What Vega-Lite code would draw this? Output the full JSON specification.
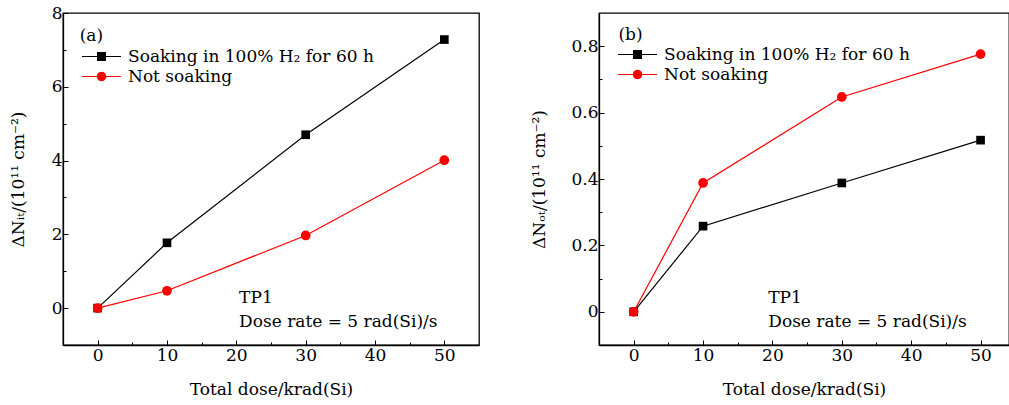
{
  "$schema": "https://vega.github.io/schema/vega-lite/v6.json",
  "padding": {"left": 8, "top": 3, "right": 0, "bottom": 0},
  "background": "white",
  "config": {
    "font": "DejaVu Serif",
    "view": {"stroke": "black", "strokeWidth": 1.3},
    "axis": {
      "domainColor": "black",
      "domainWidth": 1.3,
      "tickColor": "black",
      "tickWidth": 1,
      "labelFont": "DejaVu Serif",
      "labelFontSize": 17,
      "labelColor": "black",
      "titleFont": "DejaVu Serif",
      "titleFontSize": 17,
      "titleFontWeight": "normal",
      "titleColor": "black",
      "grid": false
    },
    "legend": {
      "labelFont": "DejaVu Serif",
      "labelFontSize": 17,
      "labelColor": "black",
      "labelLimit": 0
    }
  },
  "resolve": {"scale": {"color": "independent"}},
  "spacing": 50,
  "datasets": {
    "a": [
      {"dose": 0, "value": 0, "series": "Soaking in 100% H₂ for 60 h"},
      {"dose": 10, "value": 1.77, "series": "Soaking in 100% H₂ for 60 h"},
      {"dose": 30, "value": 4.7, "series": "Soaking in 100% H₂ for 60 h"},
      {"dose": 50, "value": 7.28, "series": "Soaking in 100% H₂ for 60 h"},
      {"dose": 0, "value": 0, "series": "Not soaking"},
      {"dose": 10, "value": 0.47, "series": "Not soaking"},
      {"dose": 30, "value": 1.97, "series": "Not soaking"},
      {"dose": 50, "value": 4.01, "series": "Not soaking"}
    ],
    "b": [
      {"dose": 0, "value": 0, "series": "Soaking in 100% H₂ for 60 h"},
      {"dose": 10, "value": 0.258, "series": "Soaking in 100% H₂ for 60 h"},
      {"dose": 30, "value": 0.388, "series": "Soaking in 100% H₂ for 60 h"},
      {"dose": 50, "value": 0.517, "series": "Soaking in 100% H₂ for 60 h"},
      {"dose": 0, "value": 0, "series": "Not soaking"},
      {"dose": 10, "value": 0.388, "series": "Not soaking"},
      {"dose": 30, "value": 0.647, "series": "Not soaking"},
      {"dose": 50, "value": 0.776, "series": "Not soaking"}
    ]
  },
  "hconcat": [
    {
      "width": 416,
      "height": 332,
      "data": {"name": "a"},
      "encoding": {
        "x": {
          "field": "dose", "type": "quantitative",
          "scale": {"domain": [-5, 55], "nice": false, "zero": false},
          "axis": {
            "title": "Total dose/krad(Si)",
            "values": [0, 5, 10, 15, 20, 25, 30, 35, 40, 45, 50],
            "labelExpr": "datum.value % 10 === 0 ? datum.label : ''",
            "tickSize": {"condition": {"test": "datum.value % 10 === 0", "value": -5}, "value": -3},
            "labelPadding": 7,
            "titlePadding": 18
          }
        },
        "y": {
          "field": "value", "type": "quantitative",
          "scale": {"domain": [-1, 8], "nice": false, "zero": false},
          "axis": {
            "title": "ΔNᵢₜ/(10¹¹ cm⁻²)",
            "values": [0, 1, 2, 3, 4, 5, 6, 7, 8],
            "labelExpr": "datum.value % 2 === 0 ? datum.label : ''",
            "tickSize": {"condition": {"test": "datum.value % 2 === 0", "value": -5}, "value": -3},
            "labelPadding": 6,
            "titlePadding": 24
          }
        }
      },
      "layer": [
        {
          "mark": {"type": "line", "strokeWidth": 1.2},
          "encoding": {
            "color": {"field": "series", "type": "nominal",
              "scale": {"domain": ["Soaking in 100% H₂ for 60 h", "Not soaking"], "range": ["black", "#ff0000"]},
              "legend": {"orient": "none", "legendX": 30, "legendY": 35, "title": null,
                "labelOffset": 18, "symbolStrokeWidth": 0,
                "encode": {"symbols": {"update": {
                  "shape": {"signal": "datum.value === 'Not soaking' ? 'M-3.9,-0.12L-0.8,-0.12L-0.8,0.12L-3.9,0.12Z M0.8,-0.12L3.9,-0.12L3.9,0.12L0.8,0.12Z M0.96,0L0.83,0.48L0.48,0.83L0,0.96L-0.48,0.83L-0.83,0.48L-0.96,0L-0.83,-0.48L-0.48,-0.83L0,-0.96L0.48,-0.83L0.83,-0.48Z' : 'M-3.9,-0.12L-0.8,-0.12L-0.8,0.12L-3.9,0.12Z M0.8,-0.12L3.9,-0.12L3.9,0.12L0.8,0.12Z M-0.9,-0.9L0.9,-0.9L0.9,0.9L-0.9,0.9Z'"},
                  "size": {"value": 100},
                  "strokeWidth": {"value": 0},
                  "opacity": {"value": 1}
                }}}}}
          }
        },
        {
          "transform": [{"filter": "datum.series === 'Soaking in 100% H₂ for 60 h'"}],
          "mark": {"type": "point", "shape": "square", "filled": true, "size": 75, "opacity": 1},
          "encoding": {"color": {"field": "series", "type": "nominal"}}
        },
        {
          "transform": [{"filter": "datum.series === 'Not soaking'"}],
          "mark": {"type": "point", "shape": "circle", "filled": true, "size": 95, "opacity": 1},
          "encoding": {"color": {"field": "series", "type": "nominal"}}
        },
        {
          "transform": [{"filter": "datum.dose === 50 && datum.series === 'Not soaking'"}],
          "mark": {"type": "text", "text": "(a)", "align": "left", "baseline": "middle", "fontSize": 17, "fill": "black", "fontWeight": "normal"},
          "encoding": {"x": {"datum": -2.6, "type": "quantitative"}, "y": {"datum": 7.37, "type": "quantitative"}}
        },
        {
          "transform": [{"filter": "datum.dose === 50 && datum.series === 'Not soaking'"}],
          "mark": {"type": "text", "text": "TP1", "align": "left", "baseline": "middle", "fontSize": 17, "fill": "black", "fontWeight": "normal"},
          "encoding": {"x": {"datum": 20.4, "type": "quantitative"}, "y": {"datum": 0.27, "type": "quantitative"}}
        },
        {
          "transform": [{"filter": "datum.dose === 50 && datum.series === 'Not soaking'"}],
          "mark": {"type": "text", "text": "Dose rate = 5 rad(Si)/s", "align": "left", "baseline": "middle", "fontSize": 17, "fill": "black", "fontWeight": "normal"},
          "encoding": {"x": {"datum": 20.4, "type": "quantitative"}, "y": {"datum": -0.38, "type": "quantitative"}}
        }
      ]
    },
    {
      "width": 410,
      "height": 332,
      "data": {"name": "b"},
      "encoding": {
        "x": {
          "field": "dose", "type": "quantitative",
          "scale": {"domain": [-5, 54.1], "nice": false, "zero": false},
          "axis": {
            "title": "Total dose/krad(Si)",
            "values": [0, 5, 10, 15, 20, 25, 30, 35, 40, 45, 50],
            "labelExpr": "datum.value % 10 === 0 ? datum.label : ''",
            "tickSize": {"condition": {"test": "datum.value % 10 === 0", "value": -5}, "value": -3},
            "labelPadding": 7,
            "titlePadding": 18
          }
        },
        "y": {
          "field": "value", "type": "quantitative",
          "scale": {"domain": [-0.1, 0.9], "nice": false, "zero": false},
          "axis": {
            "title": "ΔNₒₜ/(10¹¹ cm⁻²)",
            "values": [0, 0.1, 0.2, 0.3, 0.4, 0.5, 0.6, 0.7, 0.8],
            "labelExpr": "datum.value === 0 ? '0' : (round(datum.value * 10) % 2 === 0 ? format(datum.value, '.1f') : '')",
            "tickSize": {"condition": {"test": "round(datum.value * 10) % 2 === 0", "value": -5}, "value": -3},
            "labelPadding": 6,
            "titlePadding": 22
          }
        }
      },
      "layer": [
        {
          "mark": {"type": "line", "strokeWidth": 1.2},
          "encoding": {
            "color": {"field": "series", "type": "nominal",
              "scale": {"domain": ["Soaking in 100% H₂ for 60 h", "Not soaking"], "range": ["black", "#ff0000"]},
              "legend": {"orient": "none", "legendX": 30, "legendY": 33, "title": null,
                "labelOffset": 18, "symbolStrokeWidth": 0,
                "encode": {"symbols": {"update": {
                  "shape": {"signal": "datum.value === 'Not soaking' ? 'M-3.9,-0.12L-0.8,-0.12L-0.8,0.12L-3.9,0.12Z M0.8,-0.12L3.9,-0.12L3.9,0.12L0.8,0.12Z M0.96,0L0.83,0.48L0.48,0.83L0,0.96L-0.48,0.83L-0.83,0.48L-0.96,0L-0.83,-0.48L-0.48,-0.83L0,-0.96L0.48,-0.83L0.83,-0.48Z' : 'M-3.9,-0.12L-0.8,-0.12L-0.8,0.12L-3.9,0.12Z M0.8,-0.12L3.9,-0.12L3.9,0.12L0.8,0.12Z M-0.9,-0.9L0.9,-0.9L0.9,0.9L-0.9,0.9Z'"},
                  "size": {"value": 100},
                  "strokeWidth": {"value": 0},
                  "opacity": {"value": 1}
                }}}}}
          }
        },
        {
          "transform": [{"filter": "datum.series === 'Soaking in 100% H₂ for 60 h'"}],
          "mark": {"type": "point", "shape": "square", "filled": true, "size": 75, "opacity": 1},
          "encoding": {"color": {"field": "series", "type": "nominal"}}
        },
        {
          "transform": [{"filter": "datum.series === 'Not soaking'"}],
          "mark": {"type": "point", "shape": "circle", "filled": true, "size": 95, "opacity": 1},
          "encoding": {"color": {"field": "series", "type": "nominal"}}
        },
        {
          "transform": [{"filter": "datum.dose === 50 && datum.series === 'Not soaking'"}],
          "mark": {"type": "text", "text": "(b)", "align": "left", "baseline": "middle", "fontSize": 17, "fill": "black", "fontWeight": "normal"},
          "encoding": {"x": {"datum": -2.2, "type": "quantitative"}, "y": {"datum": 0.833, "type": "quantitative"}}
        },
        {
          "transform": [{"filter": "datum.dose === 50 && datum.series === 'Not soaking'"}],
          "mark": {"type": "text", "text": "TP1", "align": "left", "baseline": "middle", "fontSize": 17, "fill": "black", "fontWeight": "normal"},
          "encoding": {"x": {"datum": 19.4, "type": "quantitative"}, "y": {"datum": 0.041, "type": "quantitative"}}
        },
        {
          "transform": [{"filter": "datum.dose === 50 && datum.series === 'Not soaking'"}],
          "mark": {"type": "text", "text": "Dose rate = 5 rad(Si)/s", "align": "left", "baseline": "middle", "fontSize": 17, "fill": "black", "fontWeight": "normal"},
          "encoding": {"x": {"datum": 19.4, "type": "quantitative"}, "y": {"datum": -0.031, "type": "quantitative"}}
        }
      ]
    }
  ]
}
